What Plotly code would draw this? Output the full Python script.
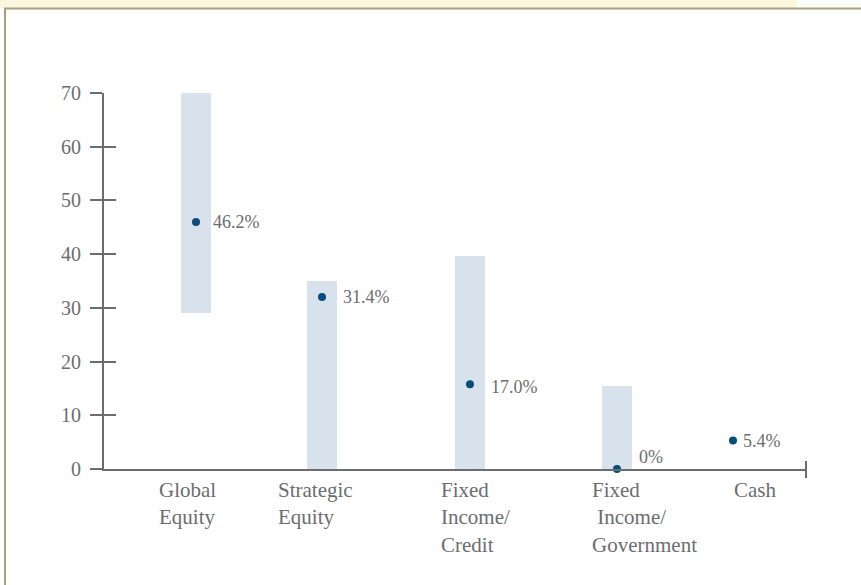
import plotly.graph_objects as go

# ---- data ----
categories = ["Global<br>Equity", "Strategic<br>Equity", "Fixed<br>Income/<br>Credit",
              "Fixed<br> Income/<br>Government", "Cash"]
range_low = [29, 0, 0, 0, None]
range_high = [70, 35, 39.6, 15.4, None]
current_values = [46.0, 32.0, 15.8, 0.0, 5.3]
value_labels = ["46.2%", "31.4%", "17.0%", "0%", "5.4%"]
y_ticks = [0, 10, 20, 30, 40, 50, 60, 70]

# ---- layout positions (axis units, 1 unit = 100 px) ----
x_pos = [0.92, 2.18, 3.66, 5.13, 6.29]
label_x = [0.53, 1.72, 3.35, 4.86, 6.28]
label_dx = [17, 21, 21, 22, 10]
label_dy = [0, 0, -3, 12, 0]

W_FIG, H_FIG = 861, 585
L, R, T, B = 104, 55, 93, 116
PW = W_FIG - L - R
PH = H_FIG - T - B

def px_x(px):
    return (px - L) / PW

def px_y(py):
    return (H_FIG - B - py) / PH

GRAY = "#6c6d70"
FONT = "Liberation Serif"
BAR_COLOR = "#d8e2ec"
DOT_COLOR = "#0a4c7a"

fig = go.Figure()

bar_base = [lo if lo is not None else 0 for lo in range_low]
bar_len = [(hi - lo) if (hi is not None and lo is not None) else 0
           for lo, hi in zip(range_low, range_high)]
fig.add_trace(go.Bar(x=x_pos, y=bar_len, base=bar_base, width=0.30,
                     marker=dict(color=BAR_COLOR, line=dict(width=0)),
                     hoverinfo="skip", showlegend=False))

fig.add_trace(go.Scatter(x=x_pos, y=current_values, mode="markers",
                         marker=dict(color=DOT_COLOR, size=8),
                         cliponaxis=False, showlegend=False))

# invisible trace to anchor overlay axis (for crossing ticks)
fig.add_trace(go.Scatter(x=x_pos, y=current_values, mode="markers", yaxis="y2",
                         marker=dict(opacity=0), hoverinfo="skip", showlegend=False))

annotations = []
for xp, v, t, dx, dy in zip(x_pos, current_values, value_labels, label_dx, label_dy):
    annotations.append(dict(x=xp, y=v, xref="x", yref="y", text=t, showarrow=False,
                            xanchor="left", yanchor="middle", xshift=dx - 2, yshift=dy,
                            font=dict(family=FONT, size=18, color=GRAY)))
for lx, c in zip(label_x, categories):
    annotations.append(dict(x=lx, y=0, xref="x", yref="y", text=c, showarrow=False,
                            xanchor="left", yanchor="top", align="left", yshift=-7,
                            font=dict(family=FONT, size=21, color=GRAY)))

border = "#a59f80"
shapes = [
    # cream strip at top
    dict(type="rect", xref="paper", yref="paper", x0=px_x(0), x1=px_x(797),
         y0=px_y(8), y1=px_y(0), fillcolor="#fdf6de", line=dict(width=0), layer="below"),
    # box border top and left
    dict(type="line", xref="paper", yref="paper", x0=px_x(4), x1=px_x(861),
         y0=px_y(8.5), y1=px_y(8.5), line=dict(color=border, width=2)),
    dict(type="line", xref="paper", yref="paper", x0=px_x(5), x1=px_x(5),
         y0=px_y(8), y1=px_y(585), line=dict(color=border, width=2)),
    # x-axis end cap
    dict(type="line", xref="paper", yref="paper", x0=1, x1=1,
         y0=px_y(461), y1=px_y(478), line=dict(color=GRAY, width=2)),
]

fig.update_layout(
    width=W_FIG, height=H_FIG,
    margin=dict(l=L, r=R, t=T, b=B, pad=0),
    paper_bgcolor="white", plot_bgcolor="white",
    showlegend=False, bargap=0,
    xaxis=dict(range=[0, PW / 100], showgrid=False, zeroline=False, showline=True,
               linecolor=GRAY, linewidth=2, showticklabels=False, ticks="",
               fixedrange=True),
    yaxis=dict(range=[0, 70], tickvals=y_ticks, showgrid=False, zeroline=False,
               showline=True, linecolor=GRAY, linewidth=2, ticks="outside",
               ticklen=12, tickwidth=2, tickcolor=GRAY, ticklabelstandoff=5,
               tickfont=dict(family=FONT, size=20, color=GRAY), fixedrange=True),
    yaxis2=dict(range=[0, 70], tickvals=y_ticks, overlaying="y", side="left",
                showgrid=False, zeroline=False, showline=False, ticks="inside",
                ticklen=12, tickwidth=2, tickcolor=GRAY, showticklabels=False,
                fixedrange=True),
    annotations=annotations,
    shapes=shapes,
)

fig.write_html("out.html", config={"displayModeBar": False},
               post_script="document.body.style.margin='0';document.body.style.overflow='hidden';")
